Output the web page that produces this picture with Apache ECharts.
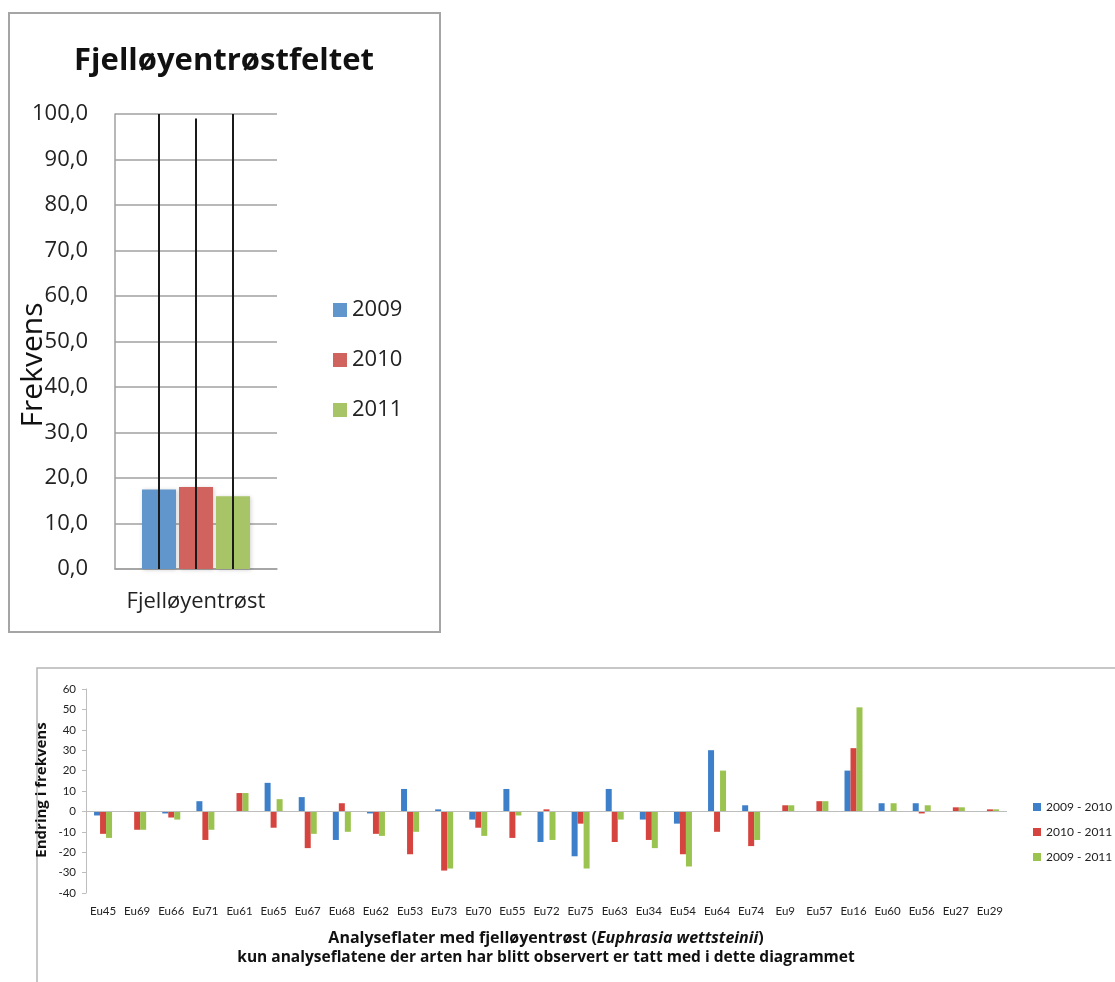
<!DOCTYPE html>
<html>
<head>
<meta charset="utf-8">
<script src="https://cdn.jsdelivr.net/npm/echarts@6/dist/echarts.min.js"></script>
<style>
  html, body { margin: 0; padding: 0; background: #ffffff; }
  #chart { width: 1115px; height: 982px; }
</style>
</head>
<body>
<div id="chart"></div>
<script>
// ---- Fjelløyentrøstfeltet: frequency per year ----
const freqCategories = ['Fjelløyentrøst'];
const freqYears = ['2009', '2010', '2011'];
const freq2009 = [17.5];
const freq2010 = [18.0];
const freq2011 = [16.0];
// upper end of the vertical range line through each year's bar
const freqRangeHigh = [100, 99, 100];

// ---- change in frequency per analysis plot ----
const plots = ['Eu45', 'Eu69', 'Eu66', 'Eu71', 'Eu61', 'Eu65', 'Eu67', 'Eu68', 'Eu62', 'Eu53',
  'Eu73', 'Eu70', 'Eu55', 'Eu72', 'Eu75', 'Eu63', 'Eu34', 'Eu54', 'Eu64', 'Eu74',
  'Eu9', 'Eu57', 'Eu16', 'Eu60', 'Eu56', 'Eu27', 'Eu29'];
const changeNames = ['2009 - 2010', '2010 - 2011', '2009 - 2011'];
const change0910 = [-2, 0, -1, 5, 0, 14, 7, -14, -1, 11, 1, -4, 11, -15, -22, 11, -4, -6, 30, 3, 0, 0, 20, 4, 4, 0, 0];
const change1011 = [-11, -9, -3, -14, 9, -8, -18, 4, -11, -21, -29, -8, -13, 1, -6, -15, -14, -21, -10, -17, 3, 5, 31, 0, -1, 2, 1];
const change0911 = [-13, -9, -4, -9, 9, 6, -11, -10, -12, -10, -28, -12, -2, -14, -28, -4, -18, -27, 20, -14, 3, 5, 51, 4, 3, 2, 1];

const FONT = '"Open Sans", Lato, sans-serif';
const SMALL_FONT = 'Lato, "Open Sans", sans-serif';
const topColors = ['#6196cc', '#d0635d', '#a7c566'];
const bottomColors = ['#3d7fc8', '#d5443e', '#9bc34f'];

const TOP_BAR_W = 34;
const TOP_BAR_GAP = 3;

const chart = echarts.init(document.getElementById('chart'));

const commaFmt = v => v.toFixed(1).replace('.', ',');

const option = {
  backgroundColor: '#ffffff',
  animation: false,
  textStyle: { fontFamily: FONT },
  title: {
    text: 'Fjelløyentrøstfeltet',
    left: 219,
    top: 41,
    textAlign: 'center',
    textStyle: { fontFamily: FONT, fontSize: 31, fontWeight: 'bold', color: '#111' }
  },
  legend: [
    {
      data: freqYears,
      orient: 'vertical',
      left: 328,
      top: 294,
      itemWidth: 14,
      itemHeight: 14,
      itemGap: 28,
      icon: 'rect',
      textStyle: { fontFamily: FONT, fontSize: 22, color: '#222' }
    },
    {
      data: changeNames,
      orient: 'vertical',
      left: 1028,
      top: 796,
      itemWidth: 8,
      itemHeight: 8,
      itemGap: 13,
      icon: 'rect',
      textStyle: { fontFamily: SMALL_FONT, fontSize: 12, color: '#222' }
    }
  ],
  grid: [
    { left: 115, top: 114, width: 162, height: 455 },
    { left: 86, top: 689, width: 921, height: 204 }
  ],
  xAxis: [
    {
      gridIndex: 0,
      type: 'category',
      data: freqCategories,
      axisLine: { lineStyle: { color: '#a0a0a0', width: 1.5 } },
      axisTick: { show: false },
      axisLabel: { fontFamily: FONT, fontSize: 22, color: '#222', margin: 22 }
    },
    {
      gridIndex: 1,
      type: 'category',
      data: plots,
      axisLine: { show: false },
      axisTick: { show: false },
      axisLabel: { fontFamily: SMALL_FONT, fontSize: 11.5, color: '#222', margin: 12, interval: 0 }
    }
  ],
  yAxis: [
    {
      gridIndex: 0,
      type: 'value',
      min: 0,
      max: 100,
      interval: 10,
      axisLine: { show: true, lineStyle: { color: '#a0a0a0', width: 1.5 } },
      axisTick: { show: false },
      axisLabel: { fontFamily: FONT, fontSize: 22, color: '#222', margin: 27, formatter: commaFmt },
      splitLine: { lineStyle: { color: '#a0a0a0', width: 1.5 } }
    },
    {
      gridIndex: 1,
      type: 'value',
      min: -40,
      max: 60,
      interval: 10,
      axisLine: { show: true, lineStyle: { color: '#bdbdbd', width: 1 } },
      axisTick: { show: true, length: 4, lineStyle: { color: '#bdbdbd' } },
      axisLabel: { fontFamily: SMALL_FONT, fontSize: 11.5, color: '#222', margin: 10 },
      splitLine: { show: false }
    }
  ],
  graphic: [
    {
      type: 'rect',
      shape: { x: 9, y: 13, width: 431, height: 619 },
      style: { fill: 'none', stroke: '#a5a5a5', lineWidth: 2 },
      silent: true
    },
    {
      type: 'rect',
      shape: { x: 37, y: 668, width: 1200, height: 400 },
      style: { fill: 'none', stroke: '#b5b5b5', lineWidth: 1.5 },
      silent: true
    },
    {
      type: 'text',
      x: 33,
      y: 365,
      rotation: Math.PI / 2,
      style: {
        text: 'Frekvens',
        fontFamily: FONT,
        fontSize: 30,
        fill: '#111',
        textAlign: 'center',
        textVerticalAlign: 'middle'
      },
      silent: true
    },
    {
      type: 'text',
      x: 42,
      y: 790,
      rotation: Math.PI / 2,
      style: {
        text: 'Endring i frekvens',
        fontFamily: FONT,
        fontSize: 15,
        fontWeight: 'bold',
        fill: '#111',
        textAlign: 'center',
        textVerticalAlign: 'middle'
      },
      silent: true
    },
    {
      type: 'text',
      x: 546,
      y: 938,
      style: {
        text: '{b|Analyseflater med fjelløyentrøst (}{bi|Euphrasia wettsteinii}{b|)}',
        textAlign: 'center',
        textVerticalAlign: 'middle',
        rich: {
          b: { fontFamily: FONT, fontSize: 16, fontWeight: 'bold', fill: '#111' },
          bi: { fontFamily: FONT, fontSize: 16, fontWeight: 'bold', fontStyle: 'italic', fill: '#111' }
        }
      },
      silent: true
    },
    {
      type: 'text',
      x: 546,
      y: 958,
      style: {
        text: 'kun analyseflatene der arten har blitt observert er tatt med i dette diagrammet',
        fontFamily: FONT,
        fontSize: 15.5,
        fontWeight: 'bold',
        fill: '#111',
        textAlign: 'center',
        textVerticalAlign: 'middle'
      },
      silent: true
    }
  ],
  series: [
    // frequency bars
    ...[freq2009, freq2010, freq2011].map((vals, i) => ({
      name: freqYears[i],
      type: 'bar',
      xAxisIndex: 0,
      yAxisIndex: 0,
      data: vals,
      barWidth: TOP_BAR_W,
      barGap: (TOP_BAR_GAP / TOP_BAR_W * 100) + '%',
      itemStyle: {
        color: topColors[i],
        shadowColor: 'rgba(0,0,0,0.18)',
        shadowBlur: 4,
        shadowOffsetX: 1,
        shadowOffsetY: 1
      }
    })),
    // vertical range lines through the bars
    {
      type: 'custom',
      xAxisIndex: 0,
      yAxisIndex: 0,
      z: 10,
      silent: true,
      data: freqRangeHigh.map((h, i) => [0, i, h]),
      renderItem: function (params, api) {
        const slot = api.value(1);
        const base = api.coord([api.value(0), 0]);
        const top = api.coord([api.value(0), api.value(2)]);
        const x = base[0] + (slot - 1) * (TOP_BAR_W + TOP_BAR_GAP);
        return {
          type: 'line',
          shape: { x1: x, y1: base[1], x2: x, y2: top[1] },
          style: { stroke: '#1a1a1a', lineWidth: 2 }
        };
      }
    },
    // change bars
    ...[change0910, change1011, change0911].map((vals, i) => ({
      name: changeNames[i],
      type: 'bar',
      xAxisIndex: 1,
      yAxisIndex: 1,
      data: vals,
      barWidth: 6,
      barGap: '0%',
      itemStyle: { color: bottomColors[i] },
      markLine: i === 0 ? {
        silent: true,
        symbol: 'none',
        label: { show: false },
        lineStyle: { color: '#bdbdbd', type: 'solid', width: 1 },
        data: [{ yAxis: 0 }]
      } : undefined
    }))
  ]
};

chart.setOption(option);
</script>
</body>
</html>
